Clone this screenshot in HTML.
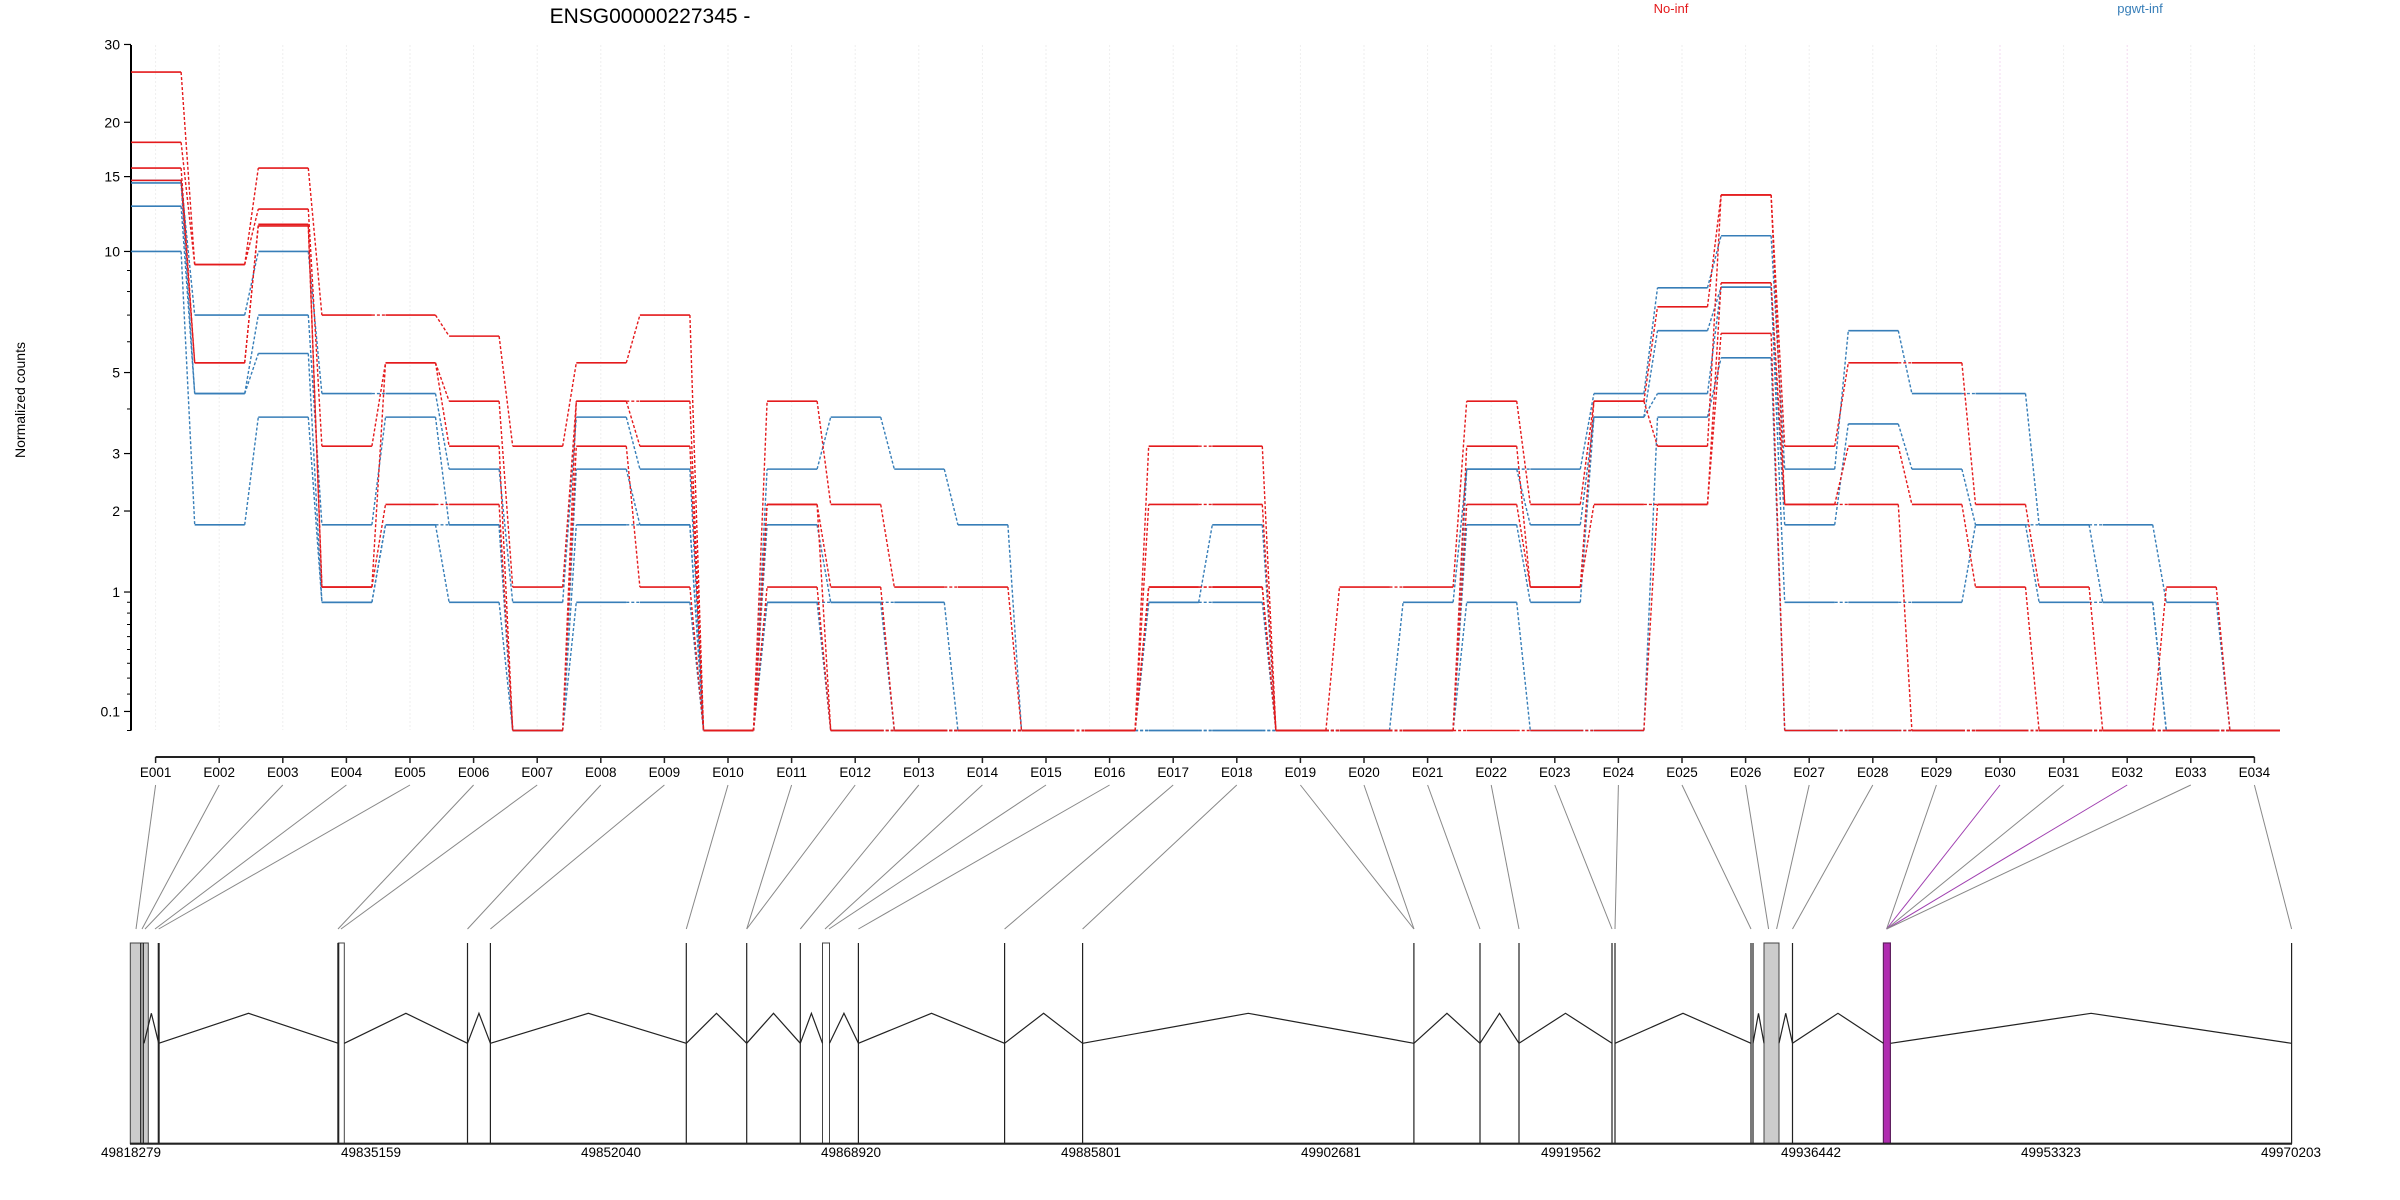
<!DOCTYPE html>
<html><head><meta charset="utf-8"><style>
html,body{margin:0;padding:0;background:#fff;}
svg{display:block;font-family:"Liberation Sans",sans-serif;}
</style></head><body>
<svg id="s" width="2400" height="1200" viewBox="0 0 2400 1200" xmlns="http://www.w3.org/2000/svg">
<text x="650" y="23" font-size="21" text-anchor="middle" fill="#000">ENSG00000227345 -</text>
<text x="1671" y="13" font-size="13" text-anchor="middle" fill="#e41a1c">No-inf</text>
<text x="2140" y="13" font-size="13" text-anchor="middle" fill="#377eb8">pgwt-inf</text>
<text transform="translate(25,400) rotate(-90)" font-size="14" text-anchor="middle" fill="#000">Normalized counts</text>
<g id="g"></g>
</svg>
<script>
(function(){
const NS="http://www.w3.org/2000/svg",g=document.getElementById('g');
function el(t,a,txt){const e=document.createElementNS(NS,t);for(const k in a)e.setAttribute(k,a[k]);if(txt!==undefined)e.textContent=txt;g.appendChild(e);return e;}
const Y=v=>730.5-460*Math.log10(v+1);
const X=i=>155.6+i*63.6;
for(let i=0;i<34;i++){el('line',{x1:X(i),x2:X(i),y1:45,y2:730,stroke:(i==29||i==31)?'#f3d8f0':'#eee','stroke-width':1,'stroke-dasharray':'2,2'});}
el('line',{x1:131,x2:131,y1:45,y2:730.5,stroke:'#000','stroke-width':2});
[[0.1,'0.1'],[1,'1'],[2,'2'],[3,'3'],[5,'5'],[10,'10'],[15,'15'],[20,'20'],[30,'30']].forEach(([v,l])=>{
 el('line',{x1:124,x2:131,y1:Y(v),y2:Y(v),stroke:'#000','stroke-width':1.2});
 el('text',{x:120,y:Y(v)+5,'font-size':14,'text-anchor':'end'},l);});
[0,0.2,0.3,0.4,0.5,0.6,0.7,0.8,0.9,4,6,7,8,9].forEach(v=>el('line',{x1:127,x2:131,y1:Y(v),y2:Y(v),stroke:'#000','stroke-width':1}));
el('line',{x1:X(0),x2:X(33),y1:757,y2:757,stroke:'#222','stroke-width':2});
for(let i=0;i<34;i++){el('line',{x1:X(i),x2:X(i),y1:757,y2:763,stroke:'#222','stroke-width':1.5});
 el('text',{x:X(i),y:777,'font-size':13.5,'text-anchor':'middle'},'E0'+String(i+1).padStart(2,'0'));}
const R=[[26,18,15.7,14.7],[9.3,9.3,5.3,5.3],[15.7,12.6,11.6,11.5],[7,3.15,1.05,1.05],[7,5.3,5.3,2.1],[6.2,4.2,3.15,2.1],[3.15,1.05,0,0],[5.3,4.2,4.2,3.15],[7,4.2,3.15,1.05],[0,0,0,0],
[4.2,2.1,2.1,1.05],[2.1,1.05,0,0],[1.05,0,0,0],[1.05,0,0,0],[0,0,0,0],[0,0,0,0],[3.15,2.1,1.05,1.05],[3.15,2.1,1.05,1.05],[0,0,0,0],[1.05,0,0,0],
[1.05,0,0,0],[4.2,3.15,2.1,0],[2.1,1.05,1.05,0],[4.2,4.2,2.1,0],[7.34,3.15,2.1,2.1],[13.6,13.6,8.4,6.3],[3.15,2.1,2.1,0],[5.3,3.15,2.1,0],[5.3,2.1,0,0],[2.1,1.05,0,0],
[1.05,0,0,0],[0,0,0,0],[1.05,0,0,0],[0,0,0,0]];
const B=[[14.7,14.5,12.8,10],[7,4.4,4.4,1.8],[10,7,5.6,3.8],[4.4,1.8,0.9,0.9],[4.4,3.8,1.8,1.8],[2.7,1.8,1.8,0.9],[0.9,0,0,0],[3.8,2.7,1.8,0.9],[2.7,1.8,1.8,0.9],[0,0,0,0],
[2.7,1.8,0.9,0.9],[3.8,0.9,0.9,0],[2.7,0.9,0,0],[1.8,0,0,0],[0,0,0,0],[0,0,0,0],[0.9,0.9,0,0],[1.8,0.9,0,0],[0,0,0,0],[0,0,0,0],
[0.9,0,0,0],[2.7,2.7,1.8,0.9],[2.7,1.8,0.9,0],[4.4,3.8,3.8,0],[8.17,6.4,4.4,3.8],[10.9,8.2,8.2,5.46],[2.7,1.8,0.9,0],[6.4,3.64,0.9,0],[4.4,2.7,0.9,0],[4.4,1.8,1.8,0],
[1.8,1.8,0.9,0],[1.8,0.9,0.9,0],[0.9,0,0,0],[0,0,0,0]];
function series(D,c){for(let s=0;s<4;s++){for(let i=0;i<34;i++){const y=Y(D[i][s]);
 el('line',{x1:X(i)-24.5,x2:X(i)+25.5,y1:y,y2:y,stroke:c,'stroke-width':1.6});
 if(i<33)el('line',{x1:X(i)+25.5,x2:X(i+1)-24.5,y1:y,y2:Y(D[i+1][s]),stroke:c,'stroke-width':1.4,'stroke-dasharray':'3,2'});}}}
series(B,'#377eb8');series(R,'#e41a1c');
const gx=[136,142,145,155,158.7,338,341,467.5,490.4,686.3,746.7,746.7,800.3,825,829,858.4,1004.6,1082.6,1413.9,1414,1480,1519,1612,1615,1751,1768.6,1776.6,1792.5,1886.6,1886.6,1886.6,1886.6,1886.6,2291.6];
gx.forEach((x,i)=>{el('line',{x1:X(i),y1:785,x2:x,y2:929,stroke:(i==29||i==31)?'#a040b0':'#888','stroke-width':1});});
const gTop=943,bot=1143.7,base=1043.3,peak=1013.3;
el('rect',{x:130.3,y:gTop,width:18,height:bot-gTop,fill:'#ccc',stroke:'#444','stroke-width':1});
el('rect',{x:822.5,y:gTop,width:7,height:bot-gTop,fill:'#fff',stroke:'#444','stroke-width':1});
el('rect',{x:338.3,y:gTop,width:6,height:bot-gTop,fill:'#fff',stroke:'#444','stroke-width':1});
el('rect',{x:1764,y:gTop,width:15,height:bot-gTop,fill:'#ccc',stroke:'#444','stroke-width':1});
el('rect',{x:1883.4,y:gTop,width:7,height:bot-gTop,fill:'#b02cb0',stroke:'#602060','stroke-width':1.2});
[140.7,143.3,158.7,338.3,467.5,490.4,686.3,746.7,800.3,858.4,1004.6,1082.6,1413.9,1480,1519,1612,1615,1751,1753,1792.5,2291.6].forEach(x=>
 el('line',{x1:x,x2:x,y1:gTop,y2:bot,stroke:'#222','stroke-width':(x==158.7||x==338.3)?2:1.2}));
const introns=[[144,158.7],[158.7,338.3],[344.3,467.5],[467.5,490.4],[490.4,686.3],[686.3,746.7],[746.7,800.3],[800.3,822.5],[829.5,858.4],[858.4,1004.6],[1004.6,1082.6],[1082.6,1413.9],[1413.9,1480],[1480,1519],[1519,1612],[1615,1751],[1753,1764],[1779,1792.5],[1792.5,1883.4],[1890.6,2291.6]];
introns.forEach(([a,b])=>el('polyline',{points:`${a},${base} ${(a+b)/2},${peak} ${b},${base}`,fill:'none',stroke:'#222','stroke-width':1.2}));
el('line',{x1:130,x2:2292,y1:bot,y2:bot,stroke:'#222','stroke-width':2.2});
['49818279','49835159','49852040','49868920','49885801','49902681','49919562','49936442','49953323','49970203'].forEach((l,i)=>
 el('text',{x:131+i*240,y:1157,'font-size':13.5,'text-anchor':'middle'},l));
})();
</script>
</body></html>
